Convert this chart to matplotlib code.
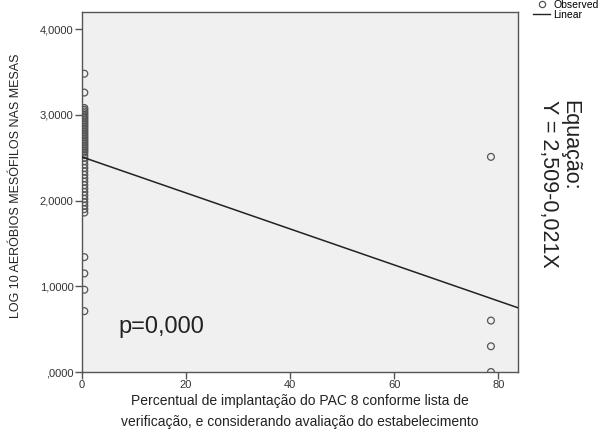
import matplotlib
matplotlib.use("Agg")
import matplotlib.pyplot as plt
from matplotlib.lines import Line2D
from matplotlib.ticker import FuncFormatter

plt.rcParams['font.family'] = ['Liberation Sans', 'DejaVu Sans']

# Observed data
x_zero = 0.45
x_zero_vals = [3.48, 3.26, 3.08, 3.06, 3.04, 3.02, 3.00, 2.98, 2.96, 2.94, 2.92, 2.90,
               2.88, 2.86, 2.84, 2.82, 2.80, 2.78, 2.76, 2.74, 2.72, 2.70, 2.68, 2.66,
               2.64, 2.62, 2.60, 2.58, 2.56, 2.53, 2.50, 2.46, 2.42, 2.38, 2.34, 2.30,
               2.26, 2.22, 2.18, 2.14, 2.10, 2.06, 2.02, 1.98, 1.94, 1.90, 1.86,
               1.34, 1.15, 0.96, 0.71]
x_high_vals = [2.51, 0.60, 0.30, 0.00]
x_high = 78.6

intercept = 2.509
slope = -0.021

xmin, xmax = 0, 83.8
ymin, ymax = 0, 4.2
yticks = [0, 1, 2, 3, 4]
xticks = [0, 20, 40, 60, 80]

fig = plt.figure(figsize=(6.03, 4.32), dpi=100)
ax = fig.add_axes([82/603, 1-372/432, (518-82)/603, (372-12)/432])
ax.set_facecolor('#f0f0f0')

xs = [x_zero]*len(x_zero_vals) + [x_high]*len(x_high_vals)
ys = x_zero_vals + x_high_vals
ax.scatter(xs, ys, s=24, facecolors='none', edgecolors='#555555', linewidths=0.9, zorder=3)

ax.plot([xmin, xmax], [intercept + slope*xmin, intercept + slope*xmax],
        color='#222222', linewidth=1.1, zorder=4)

ax.set_xlim(xmin, xmax)
ax.set_ylim(ymin, ymax)
ax.set_xticks(xticks)
ax.set_yticks(yticks)

def yfmt(v, pos):
    s = f"{v:.4f}".replace('.', ',')
    if s.startswith('0,'):
        s = s[1:]
    return s
ax.yaxis.set_major_formatter(FuncFormatter(yfmt))

for sp in ax.spines.values():
    sp.set_color('#555555')
    sp.set_linewidth(1.0)
ax.tick_params(axis='both', direction='out', length=5, width=1.0, color='#555555',
               labelsize=8, labelcolor='#333333', pad=1)

ax.set_ylabel('LOG 10 AERÓBIOS MESÓFILOS NAS MESAS', fontsize=9, color='#222222')
ax.yaxis.set_label_coords(-0.137, 0.517)
ax.set_xlabel('Percentual de implantação do PAC 8 conforme lista de\nverificação, e considerando avaliação do estabelecimento',
              fontsize=10, color='#222222', linespacing=1.6, labelpad=3)

ax.text(36/436, (371.7-327)/360, 'p=0,000', transform=ax.transAxes, fontsize=17,
        color='#222222', va='center', ha='left')

fig.text(559/603, 1-100/432, 'Equação:\nY = 2,509-0,021X', rotation=-90,
         rotation_mode='anchor', ha='left', va='center', fontsize=15.5, color='#222222',
         linespacing=1.0)

handles = [Line2D([], [], marker='o', linestyle='none', markerfacecolor='none',
                  markeredgecolor='#555555', markersize=4.5, markeredgewidth=0.9),
           Line2D([], [], color='#222222', linewidth=1.0)]
fig.legend(handles, ['Observed', 'Linear'], loc='upper left',
           bbox_to_anchor=(526/603, 1.018), frameon=False, fontsize=7.5,
           handlelength=1.6, handletextpad=0.3, labelspacing=0.0, borderpad=0.2)

fig.savefig('out.png', dpi=100)
